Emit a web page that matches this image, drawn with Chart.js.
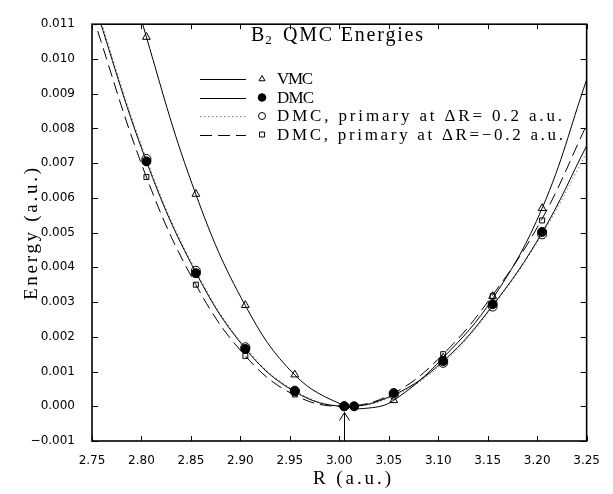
<!DOCTYPE html>
<html>
<head>
<meta charset="utf-8">
<script src="https://cdn.jsdelivr.net/npm/chart.js@4.4.1/dist/chart.umd.min.js"></script>
<style>
  html, body { margin: 0; padding: 0; background: #fff; }
  #wrap { width: 613px; height: 494px; }
</style>
</head>
<body>
<div id="wrap"><canvas id="qmcChart"></canvas></div>
<script>
// measured points
const vmcR = [2.805, 2.855, 2.905, 2.955, 3.005, 3.055, 3.105, 3.155, 3.205];
const vmcE = [0.01063, 0.00611, 0.00291, 0.00091, 0.0, 0.00017, 0.0014, 0.00317, 0.0057];
const dmcR = [2.805, 2.855, 2.905, 2.955, 3.005, 3.015, 3.055, 3.105, 3.155, 3.205];
const dmcE = [0.00705, 0.00383, 0.00165, 0.00043, 0.0, 0.0, 0.00038, 0.0013, 0.00294, 0.00502];
const plusR = [2.805, 2.855, 2.905, 2.955, 3.005, 3.055, 3.105, 3.155, 3.205];
const plusE = [0.00712, 0.0039, 0.0017, 0.00045, 0.0, 0.00033, 0.00125, 0.00287, 0.00495];
const minusR = [2.805, 2.855, 2.905, 2.955, 3.015, 3.055, 3.105, 3.155, 3.205];
const minusE = [0.0066, 0.0035, 0.00145, 0.00034, 0.0, 0.0004, 0.0015, 0.00317, 0.00535];

// fitted curves
const vmcFitR = [2.75, 2.805, 2.855, 2.905, 2.955, 3.005, 3.03, 3.055, 3.105, 3.155, 3.205, 3.25];
const vmcFitE = [0.0163, 0.01063, 0.0061, 0.0029, 0.0009, 0.00002, -0.00005, 0.00017, 0.0014, 0.0031, 0.0057, 0.0094];
const fitR = [2.75, 2.805, 2.855, 2.905, 2.955, 3.005, 3.055, 3.105, 3.155, 3.205, 3.25];
const dmcFitE = [0.0118, 0.00705, 0.00385, 0.00166, 0.00042, 0.0, 0.00033, 0.0013, 0.0029, 0.005, 0.0075];
const plusFitE = [0.0119, 0.00712, 0.0039, 0.0017, 0.00045, 0.0, 0.0003, 0.00125, 0.00287, 0.00495, 0.0073];
const minusFitE = [0.0113, 0.0066, 0.0035, 0.00145, 0.00032, 0.0, 0.00038, 0.0015, 0.0032, 0.0054, 0.0081];

const xTicks = { min: 2.75, max: 3.25, step: 0.05 };
const yTicks = { min: -0.001, max: 0.011, step: 0.001 };
const arrowR = 3.005;
const arrowTipE = -0.00018;

const pts = (xs, ys) => xs.map((x, i) => ({ x: x, y: ys[i] }));

function curve(xs, ys, dash, color) {
    return {
        data: pts(xs, ys),
        showLine: true,
        tension: 0.4,
        borderColor: color || '#000',
        borderWidth: 1,
        borderDash: dash || [],
        pointRadius: 0
    };
}

function markers(xs, ys, style, radius, fill) {
    return {
        data: pts(xs, ys),
        showLine: false,
        pointStyle: style,
        pointRadius: radius,
        pointBackgroundColor: fill,
        pointBorderColor: '#000',
        pointBorderWidth: 1
    };
}

// draw text stretched to a given width (the original font is wide)
function spaced(ctx, text, x, y, width) {
    ctx.letterSpacing = '0px';
    const w0 = ctx.measureText(text).width;
    const sp = (width - w0) / (text.length - 1);
    ctx.letterSpacing = sp + 'px';
    ctx.fillText(text, x, y);
    ctx.letterSpacing = '0px';
}

const SERIF = '"Liberation Serif", "DejaVu Serif", serif';

const decorations = {
    id: 'decorations',
    afterDatasetsDraw(chart) {
        const ctx = chart.ctx;
        const a = chart.chartArea;
        const xs = chart.scales.x, ys = chart.scales.y;
        ctx.save();
        ctx.strokeStyle = '#000';

        // inward ticks on all four sides
        ctx.lineWidth = 1;
        ctx.beginPath();
        xs.ticks.forEach(t => {
            const px = Math.round(xs.getPixelForValue(t.value)) + 0.5;
            ctx.moveTo(px, a.bottom); ctx.lineTo(px, a.bottom - 5);
            ctx.moveTo(px, a.top); ctx.lineTo(px, a.top + 5);
        });
        ys.ticks.forEach(t => {
            const py = Math.round(ys.getPixelForValue(t.value)) + 0.5;
            ctx.moveTo(a.left, py); ctx.lineTo(a.left + 6, py);
            ctx.moveTo(a.right, py); ctx.lineTo(a.right - 6, py);
        });
        ctx.stroke();

        // frame
        ctx.lineWidth = 1.6;
        ctx.strokeRect(a.left, a.top, a.right - a.left, a.bottom - a.top);

        // arrow marking the minimum
        const ax = Math.round(xs.getPixelForValue(arrowR)) + 0.5;
        const ay = ys.getPixelForValue(arrowTipE);
        ctx.lineWidth = 1;
        ctx.beginPath();
        ctx.moveTo(ax, a.bottom); ctx.lineTo(ax, ay);
        ctx.moveTo(ax - 5, ay + 8); ctx.lineTo(ax, ay); ctx.lineTo(ax + 5, ay + 8);
        ctx.stroke();

        ctx.fillStyle = '#000';
        ctx.textBaseline = 'middle';
        ctx.textAlign = 'left';

        // title with subscript
        ctx.font = '20px ' + SERIF;
        ctx.fillText('B', 251, 36);
        const bw = ctx.measureText('B').width;
        ctx.font = '13px ' + SERIF;
        ctx.fillText('2', 251 + bw + 1, 41);
        ctx.font = '20px ' + SERIF;
        spaced(ctx, 'QMC Energies', 283, 36, 140);

        // legend
        const rows = [
            { label: 'VMC', dash: [], color: '#000', style: 'triangle', r: 3.5, fill: 'rgba(0,0,0,0)', w: 36 },
            { label: 'DMC', dash: [], color: '#000', style: 'circle', r: 3.8, fill: '#000', w: 37 },
            { label: 'DMC, primary at \u0394R= 0.2 a.u.', dash: [1.5, 2.5], color: '#777', style: 'circle', r: 3.5, fill: 'rgba(0,0,0,0)', w: 285 },
            { label: 'DMC, primary at \u0394R=\u22120.2 a.u.', dash: [12, 6], color: '#000', style: 'rect', r: 3.5, fill: 'rgba(0,0,0,0)', w: 286 }
        ];
        const rowY = [79, 97.5, 116, 134.5];
        rows.forEach((row, i) => {
            const y = rowY[i];
            ctx.save();
            ctx.strokeStyle = row.color;
            ctx.lineWidth = 1;
            ctx.setLineDash(row.dash);
            ctx.beginPath();
            ctx.moveTo(200, Math.round(y) + 0.5);
            ctx.lineTo(246, Math.round(y) + 0.5);
            ctx.stroke();
            ctx.restore();
            ctx.fillStyle = row.fill;
            ctx.strokeStyle = '#000';
            ctx.lineWidth = 1;
            Chart.helpers.drawPoint(ctx, { pointStyle: row.style, radius: row.r, rotation: 0, borderWidth: 1 }, 262, y);
            ctx.fillStyle = '#000';
            ctx.font = '17px ' + SERIF;
            spaced(ctx, row.label, 277, y + 1, row.w);
        });

        // axis titles
        ctx.font = '19px ' + SERIF;
        ctx.textAlign = 'left';
        spaced(ctx, 'R (a.u.)', 313, 479, 78);
        ctx.translate(32, 234);
        ctx.rotate(-Math.PI / 2);
        spaced(ctx, 'Energy (a.u.)', -66, 0, 132);
        ctx.restore();
    }
};

document.addEventListener('DOMContentLoaded', () => {
    const ctx = document.getElementById('qmcChart').getContext('2d');
    new Chart(ctx, {
        type: 'scatter',
        data: {
            datasets: [
                markers(dmcR, dmcE, 'circle', 4.5, '#000'),
                markers(plusR, plusE, 'circle', 4.5, 'rgba(0,0,0,0)'),
                markers(minusR, minusE, 'rect', 3.5, 'rgba(0,0,0,0)'),
                markers(vmcR, vmcE, 'triangle', 4.5, 'rgba(0,0,0,0)'),
                curve(vmcFitR, vmcFitE),
                curve(fitR, dmcFitE),
                curve(fitR, plusFitE, [1.5, 2.5], '#777'),
                curve(fitR, minusFitE, [12, 6])
            ]
        },
        options: {
            responsive: true,
            maintainAspectRatio: false,
            animation: false,
            events: [],
            layout: { padding: { top: 14, right: 14, left: 0, bottom: 0 } },
            plugins: {
                legend: { display: false },
                tooltip: { enabled: false }
            },
            scales: {
                x: {
                    type: 'linear',
                    min: xTicks.min,
                    max: xTicks.max,
                    grid: { display: false, drawTicks: false },
                    border: { display: false },
                    afterFit: s => { s.height = 53; },
                    ticks: {
                        stepSize: xTicks.step,
                        padding: 13,
                        color: '#000',
                        font: { family: '"DejaVu Sans", sans-serif', size: 12 },
                        maxRotation: 0,
                        autoSkip: false,
                        callback: v => v.toFixed(2)
                    }
                },
                y: {
                    min: yTicks.min,
                    max: yTicks.max,
                    grid: { display: false, drawTicks: false },
                    border: { display: false },
                    afterFit: s => { s.width = 92; },
                    ticks: {
                        stepSize: yTicks.step,
                        padding: 17,
                        color: '#000',
                        font: { family: '"DejaVu Sans", sans-serif', size: 12 },
                        autoSkip: false,
                        callback: v => v.toFixed(3).replace('-', '\u2212')
                    }
                }
            }
        },
        plugins: [decorations]
    });
});
</script>
</body>
</html>
